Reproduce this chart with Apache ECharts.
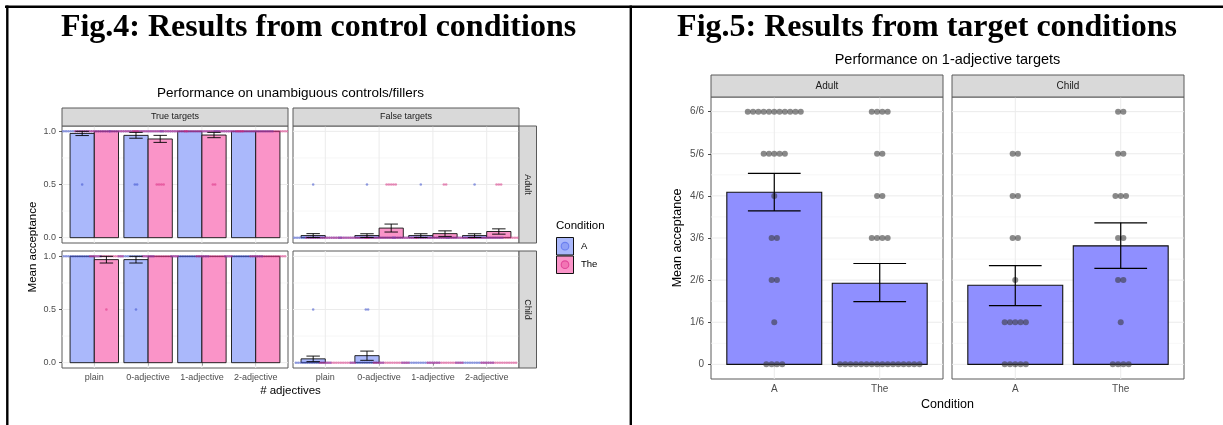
<!DOCTYPE html>
<html><head><meta charset="utf-8">
<script src="https://cdn.jsdelivr.net/npm/echarts@6/dist/echarts.min.js"></script>
<style>html,body{margin:0;padding:0;background:#fff;}#c{width:1223px;height:425px;}</style>
</head><body><div id="c"></div>
<script>
// ================= Fig.4 data (control conditions) =================
const adjCats = ['plain', '0-adjective', '1-adjective', '2-adjective'];
const yTicksLeft = [0, 0.5, 1];
const yTickLabelsLeft = ['0.0', '0.5', '1.0'];
const yMinorLeft = [0.25, 0.75];
const dotLevelsLeft = [0, 0.5, 1];

// mean acceptance per category
const adultTrueA    = [0.980, 0.962, 1.000, 1.000];
const adultTrueThe  = [1.000, 0.928, 0.965, 1.000];
const adultFalseA   = [0.020, 0.020, 0.020, 0.020];
const adultFalseThe = [0.000, 0.090, 0.038, 0.058];
const childTrueA    = [1.000, 0.969, 1.000, 1.000];
const childTrueThe  = [0.969, 1.000, 1.000, 1.000];
const childFalseA   = [0.036, 0.066, 0.000, 0.000];
const childFalseThe = [0.000, 0.000, 0.000, 0.000];

// error bars [low, high]
const adultTrueErrA    = [[0.960, 1.000], [0.935, 0.990], [1, 1], [1, 1]];
const adultTrueErrThe  = [[1, 1], [0.896, 0.962], [0.940, 0.990], [1, 1]];
const adultFalseErrA   = [[0.002, 0.038], [0.002, 0.037], [0.002, 0.037], [0.002, 0.037]];
const adultFalseErrThe = [[0, 0], [0.053, 0.128], [0.012, 0.064], [0.033, 0.083]];
const childTrueErrA    = [[1, 1], [0.937, 1.000], [1, 1], [1, 1]];
const childTrueErrThe  = [[0.937, 1.000], [1, 1], [1, 1], [1, 1]];
const childFalseErrA   = [[0.010, 0.062], [0.022, 0.109], [0, 0], [0, 0]];
const childFalseErrThe = [[0, 0], [0, 0], [0, 0], [0, 0]];

// participant dots: counts at levels [0, 0.5, 1]
const adultTrueDotsA    = [[0, 1, 25], [0, 2, 24], [0, 0, 26], [0, 0, 26]];
const adultTrueDotsThe  = [[0, 0, 28], [0, 4, 24], [0, 2, 26], [0, 0, 28]];
const adultFalseDotsA   = [[25, 1, 0], [25, 1, 0], [25, 1, 0], [25, 1, 0]];
const adultFalseDotsThe = [[28, 0, 0], [23, 5, 0], [26, 2, 0], [25, 3, 0]];
const childTrueDotsA    = [[0, 0, 17], [0, 1, 16], [0, 0, 17], [0, 0, 17]];
const childTrueDotsThe  = [[0, 1, 15], [0, 0, 16], [0, 0, 16], [0, 0, 16]];
const childFalseDotsA   = [[16, 1, 0], [15, 2, 0], [17, 0, 0], [17, 0, 0]];
const childFalseDotsThe = [[16, 0, 0], [16, 0, 0], [16, 0, 0], [16, 0, 0]];

// ================= Fig.5 data (1-adjective targets) =================
const condCats = ['A', 'The'];
const yTickLabelsRight = ['0', '1/6', '2/6', '3/6', '4/6', '5/6', '6/6'];
const yTicksRight = [0, 1/6, 2/6, 3/6, 4/6, 5/6, 1];
const yMinorRight = [0.5/6, 1.5/6, 2.5/6, 3.5/6, 4.5/6, 5.5/6];
const adultMean = [0.681, 0.321];
const adultErr  = [[0.607, 0.756], [0.248, 0.399]];
const childMean = [0.313, 0.469];
const childErr  = [[0.232, 0.391], [0.380, 0.560]];
// dot counts at levels 0/6 .. 6/6
const adultDotsA   = [4, 1, 2, 2, 1, 5, 11];
const adultDotsThe = [16, 0, 0, 4, 2, 2, 4];
const childDotsA   = [5, 5, 1, 2, 2, 2, 0];
const childDotsThe = [4, 1, 2, 2, 3, 2, 2];

// ================= styling / layout =================
const SANS = 'Liberation Sans, Arial, sans-serif';
const colA = '#aab8fb', colThe = '#fa94c8';
const dotA = 'rgba(60,80,205,0.55)', dotThe = 'rgba(215,40,125,0.5)';
const barR = '#8f8fff';

const LC = [62, 293], LW = 226, LR = [126, 251], LH = 117;
const RC = [711, 952], RW = 232, RT = 97, RH = 282;

const grids = [];
LR.forEach(t => LC.forEach(l => grids.push({left: l, top: t, width: LW, height: LH})));
RC.forEach(l => grids.push({left: l, top: RT, width: RW, height: RH}));
grids.forEach(g => { g.show = true; g.borderColor = '#5a5a5a'; g.borderWidth = 1; g.backgroundColor = '#fff'; g.containLabel = false; });

const xAxes = [], yAxes = [];
for (let i = 0; i < 4; i++) {
  const bottom = i >= 2, leftCol = i % 2 === 0;
  xAxes.push({gridIndex: i, type: 'value', min: 0.4, max: 4.6,
    axisLine: {show: false}, splitLine: {show: false},
    axisTick: {show: bottom, customValues: [1, 2, 3, 4], length: 3, lineStyle: {color: '#333', width: 0.8}},
    axisLabel: {show: bottom, customValues: [1, 2, 3, 4], margin: 5, color: '#4d4d4d', fontSize: 9, fontFamily: SANS,
      formatter: v => adjCats[Math.round(v) - 1]}});
  yAxes.push({gridIndex: i, type: 'value', min: -0.05, max: 1.05,
    axisLine: {show: false}, splitLine: {show: false},
    axisTick: {show: leftCol, customValues: yTicksLeft, length: 3, lineStyle: {color: '#333', width: 0.8}},
    axisLabel: {show: leftCol, customValues: yTicksLeft, margin: 6, color: '#4d4d4d', fontSize: 9, fontFamily: SANS,
      formatter: v => yTickLabelsLeft[yTicksLeft.findIndex(t => Math.abs(t - v) < 1e-6)]}});
}
for (let i = 4; i < 6; i++) {
  const leftCol = i === 4;
  xAxes.push({gridIndex: i, type: 'value', min: 0.4, max: 2.6,
    axisLine: {show: false}, splitLine: {show: false},
    axisTick: {show: true, customValues: [1, 2], length: 3, lineStyle: {color: '#333', width: 0.9}},
    axisLabel: {show: true, customValues: [1, 2], margin: 5, color: '#4d4d4d', fontSize: 10, fontFamily: SANS,
      formatter: v => condCats[Math.round(v) - 1]}});
  yAxes.push({gridIndex: i, type: 'value', min: -0.058, max: 1.058,
    axisLine: {show: false}, splitLine: {show: false},
    axisTick: {show: leftCol, customValues: yTicksRight, length: 3, lineStyle: {color: '#333', width: 0.9}},
    axisLabel: {show: leftCol, customValues: yTicksRight, margin: 7, color: '#4d4d4d', fontSize: 10, fontFamily: SANS,
      formatter: v => yTickLabelsRight[Math.round(v * 6)]}});
}

// ---------- series builders ----------
function gridLines(ai, hMajor, hMinor, vMajor) {
  const data = [];
  hMajor.forEach(v => data.push([0, v]));
  hMinor.forEach(v => data.push([1, v]));
  vMajor.forEach(v => data.push([2, v]));
  return {type: 'custom', xAxisIndex: ai, yAxisIndex: ai, silent: true, z: 1, data,
    renderItem(params, api) {
      const cs = params.coordSys, kind = api.value(0), v = api.value(1);
      if (kind === 2) {
        const x = api.coord([v, 0.5])[0];
        return {type: 'line', shape: {x1: x, y1: cs.y, x2: x, y2: cs.y + cs.height}, style: {stroke: '#ebebeb', lineWidth: 1}};
      }
      const y = api.coord([1, v])[1];
      return {type: 'line', shape: {x1: cs.x, y1: y, x2: cs.x + cs.width, y2: y},
        style: {stroke: kind === 0 ? '#ebebeb' : '#f3f3f3', lineWidth: kind === 0 ? 1 : 0.7}};
    }};
}
function bars(ai, means, x0, x1, fill, lw) {
  return {type: 'custom', xAxisIndex: ai, yAxisIndex: ai, silent: true, z: 2,
    data: means.map((m, i) => [i + 1, m]),
    renderItem(params, api) {
      const x = api.value(0), v = api.value(1);
      const a = api.coord([x + x0, v]), b = api.coord([x + x1, 0]);
      if (b[1] - a[1] < 0.3) return null;
      return {type: 'rect', shape: {x: a[0], y: a[1], width: b[0] - a[0], height: b[1] - a[1]},
        style: {fill, stroke: '#111', lineWidth: lw}};
    }};
}
function dots(ai, items, offset, gap, r, fill) {
  return {type: 'custom', xAxisIndex: ai, yAxisIndex: ai, silent: true, z: 3, clip: true, data: items,
    renderItem(params, api) {
      const x = api.value(0) + offset, y = api.value(1), n = api.value(2);
      if (!n) return null;
      const c = api.coord([x, y]);
      const children = [];
      for (let j = 0; j < n; j++) {
        children.push({type: 'circle', shape: {cx: c[0] + (j - (n - 1) / 2) * gap, cy: c[1], r}, style: {fill}});
      }
      return {type: 'group', children};
    }};
}
function errs(ai, errList, offset, capW, lw) {
  return {type: 'custom', xAxisIndex: ai, yAxisIndex: ai, silent: true, z: 4,
    data: errList.map((e, i) => [i + 1, e[0], e[1]]),
    renderItem(params, api) {
      const x = api.value(0) + offset, lo = api.value(1), hi = api.value(2);
      if (hi - lo < 1e-6) return null;
      const ph = api.coord([x, hi]), pl = api.coord([x, lo]);
      const hw = api.coord([x + capW / 2, 0])[0] - ph[0];
      const st = {stroke: '#000', lineWidth: lw};
      return {type: 'group', children: [
        {type: 'line', shape: {x1: ph[0], y1: ph[1], x2: pl[0], y2: pl[1]}, style: st},
        {type: 'line', shape: {x1: ph[0] - hw, y1: ph[1], x2: ph[0] + hw, y2: ph[1]}, style: st},
        {type: 'line', shape: {x1: pl[0] - hw, y1: pl[1], x2: pl[0] + hw, y2: pl[1]}, style: st}
      ]};
    }};
}
function leftDotItems(counts) {
  const out = [];
  counts.forEach((c, i) => c.forEach((n, k) => { if (n) out.push([i + 1, dotLevelsLeft[k], n]); }));
  return out;
}
function rightDotItems(x, counts) {
  const out = [];
  counts.forEach((n, k) => { if (n) out.push([x, yTicksRight[k], n]); });
  return out;
}

const series = [];
const leftPanels = [
  [adultTrueA, adultTrueThe, adultTrueErrA, adultTrueErrThe, adultTrueDotsA, adultTrueDotsThe],
  [adultFalseA, adultFalseThe, adultFalseErrA, adultFalseErrThe, adultFalseDotsA, adultFalseDotsThe],
  [childTrueA, childTrueThe, childTrueErrA, childTrueErrThe, childTrueDotsA, childTrueDotsThe],
  [childFalseA, childFalseThe, childFalseErrA, childFalseErrThe, childFalseDotsA, childFalseDotsThe]
];
leftPanels.forEach((p, ai) => {
  series.push(gridLines(ai, yTicksLeft, yMinorLeft, [1, 2, 3, 4]));
  series.push(bars(ai, p[0], -0.45, 0, colA, 0.9));
  series.push(bars(ai, p[1], 0, 0.45, colThe, 0.9));
  series.push(dots(ai, leftDotItems(p[4]), -0.225, 2.3, 1.3, dotA));
  series.push(dots(ai, leftDotItems(p[5]), 0.225, 2.3, 1.3, dotThe));
  series.push(errs(ai, p[2], -0.225, 0.25, 0.9));
  series.push(errs(ai, p[3], 0.225, 0.25, 0.9));
});
const rightPanels = [
  [adultMean, adultErr, adultDotsA, adultDotsThe],
  [childMean, childErr, childDotsA, childDotsThe]
];
rightPanels.forEach((p, k) => {
  const ai = 4 + k;
  series.push(gridLines(ai, yTicksRight, yMinorRight, [1, 2]));
  series.push(bars(ai, p[0], -0.45, 0.45, barR, 1.1));
  series.push(dots(ai, rightDotItems(1, p[2]).concat(rightDotItems(2, p[3])), 0, 5.3, 3, 'rgba(55,55,55,0.58)'));
  series.push(errs(ai, p[1], 0, 0.5, 1.2));
});

// ---------- decorations ----------
const G = [];
function txt(x, y, text, font, opts) {
  return Object.assign({type: 'text', x, y, z: 10, silent: true,
    style: Object.assign({text, font, fill: '#000', textAlign: 'center', textVerticalAlign: 'middle'}, (opts && opts.style) || {})},
    opts && opts.rotation !== undefined ? {rotation: opts.rotation} : {});
}
function strip(x, y, w, h, label, fs, vertical) {
  G.push({type: 'rect', z: 9, silent: true, shape: {x, y, width: w, height: h}, style: {fill: '#d9d9d9', stroke: '#5a5a5a', lineWidth: 1}});
  G.push(txt(x + w / 2, y + h / 2, label, fs + 'px ' + SANS, {style: {fill: '#1a1a1a'}, rotation: vertical ? -Math.PI / 2 : undefined}));
}
// borders
G.push({type: 'line', z: 10, silent: true, shape: {x1: 5, y1: 6.8, x2: 1223, y2: 6.8}, style: {stroke: '#000', lineWidth: 2.6}});
G.push({type: 'line', z: 10, silent: true, shape: {x1: 7.3, y1: 5.5, x2: 7.3, y2: 425}, style: {stroke: '#000', lineWidth: 2.4}});
G.push({type: 'line', z: 10, silent: true, shape: {x1: 630.8, y1: 5.5, x2: 630.8, y2: 425}, style: {stroke: '#000', lineWidth: 2.4}});
// titles
G.push(txt(318.5, 28, 'Fig.4: Results from control conditions', 'bold 32px Liberation Serif, Times New Roman, serif'));
G.push(txt(927, 28, 'Fig.5: Results from target conditions', 'bold 32px Liberation Serif, Times New Roman, serif'));
G.push(txt(290.5, 93, 'Performance on unambiguous controls/fillers', '13.5px ' + SANS));
G.push(txt(947.5, 60, 'Performance on 1-adjective targets', '14.5px ' + SANS));
// strips Fig.4
strip(LC[0], 108, LW, 18, 'True targets', 9);
strip(LC[1], 108, LW, 18, 'False targets', 9);
strip(LC[1] + LW, LR[0], 17.5, LH, 'Adult', 9, true);
strip(LC[1] + LW, LR[1], 17.5, LH, 'Child', 9, true);
// strips Fig.5
strip(RC[0], 75, RW, 22, 'Adult', 10);
strip(RC[1], 75, RW, 22, 'Child', 10);
// axis titles
G.push(txt(33, (LR[0] + LR[1] + LH) / 2, 'Mean acceptance', '11.5px ' + SANS, {rotation: Math.PI / 2}));
G.push(txt(290.5, 391, '# adjectives', '11.5px ' + SANS));
G.push(txt(678, RT + RH / 2, 'Mean acceptance', '12.5px ' + SANS, {rotation: Math.PI / 2}));
G.push(txt(947.5, 405, 'Condition', '12.5px ' + SANS));
// legend Fig.4
G.push(txt(556, 226, 'Condition', '11.5px ' + SANS, {style: {textAlign: 'left'}}));
G.push({type: 'rect', z: 10, silent: true, shape: {x: 556.5, y: 237.5, width: 17, height: 17.5}, style: {fill: colA, stroke: '#111', lineWidth: 1}});
G.push({type: 'circle', z: 11, silent: true, shape: {cx: 565, cy: 246.2, r: 3.8}, style: {fill: 'rgba(110,130,240,0.45)', stroke: '#6a7ff0', lineWidth: 1.1}});
G.push({type: 'rect', z: 10, silent: true, shape: {x: 556.5, y: 256, width: 17, height: 17.5}, style: {fill: colThe, stroke: '#111', lineWidth: 1}});
G.push({type: 'circle', z: 11, silent: true, shape: {cx: 565, cy: 264.7, r: 3.8}, style: {fill: 'rgba(230,70,150,0.4)', stroke: '#e2479a', lineWidth: 1.1}});
G.push(txt(581, 246.2, condCats[0], '9.5px ' + SANS, {style: {textAlign: 'left'}}));
G.push(txt(581, 264.7, condCats[1], '9.5px ' + SANS, {style: {textAlign: 'left'}}));

const chart = echarts.init(document.getElementById('c'));
chart.setOption({
  animation: false,
  backgroundColor: '#fff',
  grid: grids, xAxis: xAxes, yAxis: yAxes, series, graphic: {elements: G}
});
</script></body></html>
